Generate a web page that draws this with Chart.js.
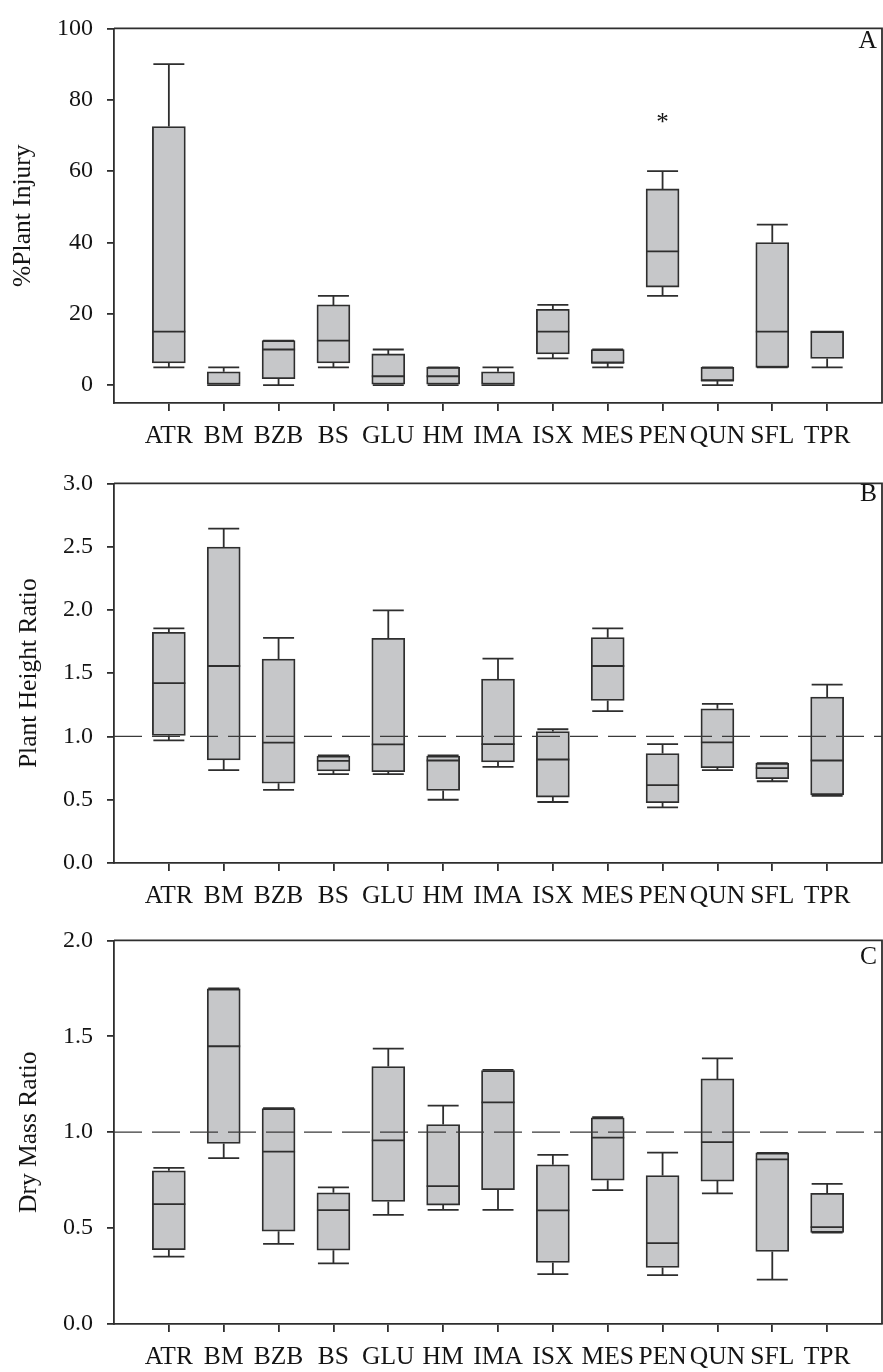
<!DOCTYPE html>
<html><head><meta charset="utf-8">
<script src="https://cdn.jsdelivr.net/npm/chart.js@4.4.0/dist/chart.umd.min.js"></script>
<style>
html,body{margin:0;padding:0;background:#fff;}
canvas{display:block;}
</style></head>
<body>
<canvas id="cA" width="883" height="455"></canvas>
<canvas id="cB" width="883" height="457"></canvas>
<canvas id="cC" width="883" height="460"></canvas>
<script>
// ---------- data ----------
const categories = ['ATR','BM','BZB','BS','GLU','HM','IMA','ISX','MES','PEN','QUN','SFL','TPR'];

// Panel A: % plant injury
const injuryMin = [5,    0,    0,    5,     0,    0,   0,    7.5,   5,    25,   0,    5,   5];
const injuryQ1  = [6.25, 0,    1.8,  6.25,  0,    0,   0,    8.75,  6.25, 27.5, 1.25, 5,   7.5];
const injuryMed = [15,   0,    10,   12.5,  2.5,  2.5, 0,    15,    6.25, 37.5, 1.25, 15,  15];
const injuryQ3  = [72.5, 3.75, 12.5, 22.5,  8.75, 5,   3.75, 21.25, 10,   55,   5,    40,  15];
const injuryMax = [90,   5,    12.5, 25,    10,   5,   5,    22.5,  10,   60,   5,    45,  15];
const injuryTicks = [0,20,40,60,80,100];
const asteriskCategory = 'PEN';
const asteriskValue = 72.4;

// Panel B: plant height ratio
const heightMin = [0.969,0.734,0.578,0.703,0.703,0.500,0.760,0.482,1.200,0.440,0.734,0.646,0.531];
const heightQ1  = [1.008,0.815,0.630,0.727,0.721,0.573,0.799,0.521,1.284,0.477,0.753,0.667,0.539];
const heightMed = [1.422,1.557,0.951,0.807,0.938,0.810,0.940,0.818,1.557,0.615,0.953,0.750,0.810];
const heightQ3  = [1.823,2.497,1.612,0.845,1.776,0.845,1.453,1.039,1.781,0.865,1.219,0.789,1.312];
const heightMax = [1.854,2.643,1.779,0.850,1.997,0.850,1.615,1.057,1.854,0.940,1.258,0.790,1.409];
const heightTicks = [0,0.5,1.0,1.5,2.0,2.5,3.0];

// Panel C: dry mass ratio
const massMin = [0.351,0.865,0.418,0.316,0.569,0.595,0.595,0.260,0.698,0.255,0.681,0.231,0.477];
const massQ1  = [0.387,0.941,0.484,0.385,0.639,0.620,0.700,0.321,0.750,0.295,0.745,0.378,0.477];
const massMed = [0.625,1.448,0.899,0.594,0.957,0.719,1.155,0.592,0.972,0.422,0.948,0.858,0.505];
const massQ3  = [0.799,1.747,1.123,0.684,1.342,1.040,1.321,0.830,1.075,0.774,1.278,0.892,0.681];
const massMax = [0.814,1.750,1.125,0.712,1.436,1.139,1.325,0.882,1.078,0.894,1.385,0.892,0.731];
const massTicks = [0,0.5,1.0,1.5,2.0];

const referenceLine = 1.0;

// ---------- styling ----------
const FONT = "'Liberation Serif','Times New Roman',Times,serif";
const LINE = '#2e2e2e';
const TEXT = '#141414';
const FILL = '#c6c7c9';
const LW = 1.8;
const BOX_W = 33;

const boxPlugin = {
  id: 'boxWhisker',
  afterDatasetsDraw(chart, args, opts) {
    const {ctx, scales: {x, y}} = chart;
    const half = BOX_W / 2;
    ctx.save();
    ctx.strokeStyle = LINE;
    ctx.lineWidth = LW;
    ctx.setLineDash([]);
    opts.med.forEach((m, i) => {
      const cx = x.getPixelForValue(i + 1);
      const yMin = y.getPixelForValue(opts.min[i]);
      const yQ1 = y.getPixelForValue(opts.q1[i]);
      const yMed = y.getPixelForValue(m);
      const yQ3 = y.getPixelForValue(opts.q3[i]);
      const yMax = y.getPixelForValue(opts.max[i]);
      ctx.beginPath();
      ctx.moveTo(cx, yQ3); ctx.lineTo(cx, yMax);
      ctx.moveTo(cx - half + 1, yMax); ctx.lineTo(cx + half - 1, yMax);
      ctx.moveTo(cx, yQ1); ctx.lineTo(cx, yMin);
      ctx.moveTo(cx - half + 1, yMin); ctx.lineTo(cx + half - 1, yMin);
      ctx.moveTo(cx - half, yMed); ctx.lineTo(cx + half, yMed);
      ctx.stroke();
    });
    if (opts.note) {
      const n = opts.note;
      const cx = x.getPixelForValue(categories.indexOf(n.category) + 1);
      const cy = y.getPixelForValue(n.value);
      ctx.fillStyle = TEXT;
      ctx.font = '25px ' + FONT;
      ctx.textAlign = 'center';
      ctx.textBaseline = 'alphabetic';
      ctx.fillText('*', cx, cy + 3);
    }
    ctx.restore();
  },
  afterDraw(chart, args, opts) {
    const {ctx, chartArea: a} = chart;
    ctx.save();
    ctx.strokeStyle = LINE;
    ctx.lineWidth = LW;
    ctx.beginPath();
    ctx.moveTo(a.left, a.top);
    ctx.lineTo(a.right, a.top);
    ctx.lineTo(a.right, a.bottom);
    ctx.stroke();
    ctx.fillStyle = TEXT;
    ctx.font = '25.5px ' + FONT;
    ctx.textAlign = 'right';
    ctx.textBaseline = 'middle';
    ctx.fillText(opts.letter, a.right - 5, a.top + opts.letterDy);
    ctx.restore();
  }
};

function makePanel(id, cfg) {
  const datasets = [{
    type: 'bar',
    data: categories.map((c, i) => ({x: i + 1, y: [cfg.q1[i], cfg.q3[i]]})),
    backgroundColor: FILL,
    borderColor: LINE,
    borderWidth: LW,
    borderSkipped: false,
    barThickness: BOX_W,
    order: 2
  }];
  if (cfg.refLine !== undefined) {
    datasets.push({
      type: 'line',
      data: [{x: 0, y: cfg.refLine}, {x: categories.length + 1, y: cfg.refLine}],
      borderColor: '#3a3a3a',
      borderWidth: 1.3,
      borderDash: [28, 10],
      pointRadius: 0,
      fill: false,
      order: 1
    });
  }
  new Chart(document.getElementById(id), {
    type: 'bar',
    data: {datasets},
    plugins: [boxPlugin],
    options: {
      responsive: false,
      animation: false,
      devicePixelRatio: 1,
      layout: {padding: {top: cfg.padTop, right: 1, left: 0, bottom: 0}},
      plugins: {
        legend: {display: false},
        tooltip: {enabled: false},
        boxWhisker: {min: cfg.min, q1: cfg.q1, med: cfg.med, q3: cfg.q3, max: cfg.max,
                     letter: cfg.letter, letterDy: cfg.letterDy, note: cfg.note}
      },
      scales: {
        x: {
          type: 'linear',
          offset: false,
          min: 0,
          max: categories.length + 1,
          afterBuildTicks: (s) => { s.ticks = categories.map((c, i) => ({value: i + 1})); },
          afterFit: (s) => { s.height = cfg.xHeight; },
          ticks: {
            autoSkip: false, maxRotation: 0, minRotation: 0,
            padding: 10,
            color: TEXT,
            font: {family: FONT, size: 25.5},
            callback: (v) => categories[v - 1]
          },
          grid: {offset: false, drawOnChartArea: false, drawTicks: true, tickLength: 8, color: LINE, lineWidth: LW},
          border: {display: true, color: LINE, width: LW}
        },
        y: {
          type: 'linear',
          min: cfg.yMin,
          max: cfg.yMax,
          afterBuildTicks: (s) => { s.ticks = cfg.ticks.map(v => ({value: v})); },
          afterFit: (s) => { s.width = 114; },
          ticks: {
            padding: 14,
            color: TEXT,
            font: {family: FONT, size: 24},
            callback: (v) => cfg.fmt(v)
          },
          grid: {drawOnChartArea: false, drawTicks: true, tickLength: 7, color: LINE, lineWidth: LW},
          border: {display: true, color: LINE, width: LW},
          title: {
            display: true,
            text: cfg.title,
            color: TEXT,
            font: {family: FONT, size: 25.5},
            padding: {top: cfg.titlePad, bottom: 0}
          }
        }
      }
    }
  });
}

makePanel('cA', {
  min: injuryMin, q1: injuryQ1, med: injuryMed, q3: injuryQ3, max: injuryMax,
  yMin: -5, yMax: 100, ticks: injuryTicks, fmt: v => String(v),
  title: '%Plant Injury', titlePad: 8, padTop: 19, xHeight: 52,
  letter: 'A', letterDy: 13,
  note: {category: asteriskCategory, value: asteriskValue}
});
makePanel('cB', {
  min: heightMin, q1: heightQ1, med: heightMed, q3: heightQ3, max: heightMax,
  yMin: 0, yMax: 3, ticks: heightTicks, fmt: v => v.toFixed(1),
  title: 'Plant Height Ratio', titlePad: 14, padTop: 24, xHeight: 49,
  letter: 'B', letterDy: 11, refLine: referenceLine
});
makePanel('cC', {
  min: massMin, q1: massQ1, med: massMed, q3: massQ3, max: massMax,
  yMin: 0, yMax: 2, ticks: massTicks, fmt: v => v.toFixed(1),
  title: 'Dry Mass Ratio', titlePad: 14, padTop: 28, xHeight: 48,
  letter: 'C', letterDy: 17, refLine: referenceLine
});
</script>
</body></html>
